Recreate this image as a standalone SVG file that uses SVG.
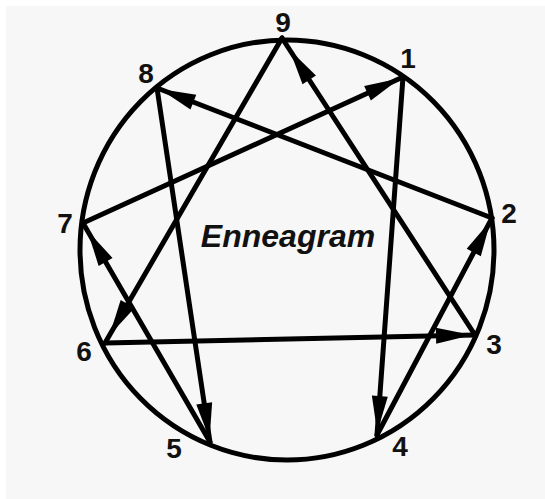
<svg xmlns="http://www.w3.org/2000/svg" width="545" height="499" viewBox="0 0 545 499">
  <style>
    .ring { fill: none; stroke: #000; stroke-width: 5; }
    .edge { fill: none; stroke: #000; stroke-width: 5; stroke-linecap: round; marker-end: url(#arrow); }
    .num { font-family: "Liberation Sans", Arial, sans-serif; font-weight: bold; font-size: 28px; fill: #111; text-anchor: middle; }
    .title { font-family: "Liberation Sans", Arial, sans-serif; font-weight: bold; font-style: italic; font-size: 32px; fill: #111; text-anchor: middle; }
  </style>
  <defs>
    <marker id="arrow" markerUnits="userSpaceOnUse" viewBox="-40 -10 50 20" markerWidth="50" markerHeight="20" refX="3" refY="0" orient="auto" overflow="visible">
      <path d="M-36,-8 L0,0 L-36,8 Z" fill="#000"/>
    </marker>
    <marker id="arrow9" markerUnits="userSpaceOnUse" viewBox="-40 -10 50 20" markerWidth="50" markerHeight="20" refX="14" refY="0" orient="auto" overflow="visible">
      <path d="M-36,-8 L0,0 L-36,8 Z" fill="#000"/>
    </marker>
    <marker id="arrow7" markerUnits="userSpaceOnUse" viewBox="-40 -10 50 20" markerWidth="50" markerHeight="20" refX="9" refY="0" orient="auto" overflow="visible">
      <path d="M-36,-8 L0,0 L-36,8 Z" fill="#000"/>
    </marker>
  </defs>
  <rect x="0" y="0" width="545" height="499" fill="#ffffff"/>
  <rect x="6" y="6" width="539" height="493" fill="#f7f7f7"/>

  <g id="ring">
    <ellipse class="ring" cx="287" cy="250" rx="207" ry="210"/>
  </g>

  <g id="connectors">
    <line class="edge" x1="282" y1="38" x2="105" y2="343" style="marker-end:url(#arrow7)"/>
    <line class="edge" x1="105" y1="343" x2="475" y2="335"/>
    <line class="edge" x1="475" y1="335" x2="282" y2="38" style="marker-end:url(#arrow9)"/>
    <line class="edge" x1="403" y1="77" x2="377" y2="435"/>
    <line class="edge" x1="377" y1="435" x2="492" y2="218"/>
    <line class="edge" x1="492" y1="218" x2="157" y2="88"/>
    <line class="edge" x1="157" y1="88" x2="210" y2="442"/>
    <line class="edge" x1="210" y1="442" x2="83" y2="223" style="marker-end:url(#arrow7)"/>
    <line class="edge" x1="83" y1="223" x2="403" y2="77"/>
  </g>

  <g id="node-9"><text class="num" x="283" y="32">9</text></g>
  <g id="node-1"><text class="num" x="408" y="68">1</text></g>
  <g id="node-2"><text class="num" x="509" y="223">2</text></g>
  <g id="node-3"><text class="num" x="494" y="354">3</text></g>
  <g id="node-4"><text class="num" x="400" y="456">4</text></g>
  <g id="node-5"><text class="num" x="174" y="458">5</text></g>
  <g id="node-6"><text class="num" x="84" y="361">6</text></g>
  <g id="node-7"><text class="num" x="65" y="233">7</text></g>
  <g id="node-8"><text class="num" x="146" y="83">8</text></g>

  <g id="title"><text class="title" x="288" y="247">Enneagram</text></g>
</svg>
